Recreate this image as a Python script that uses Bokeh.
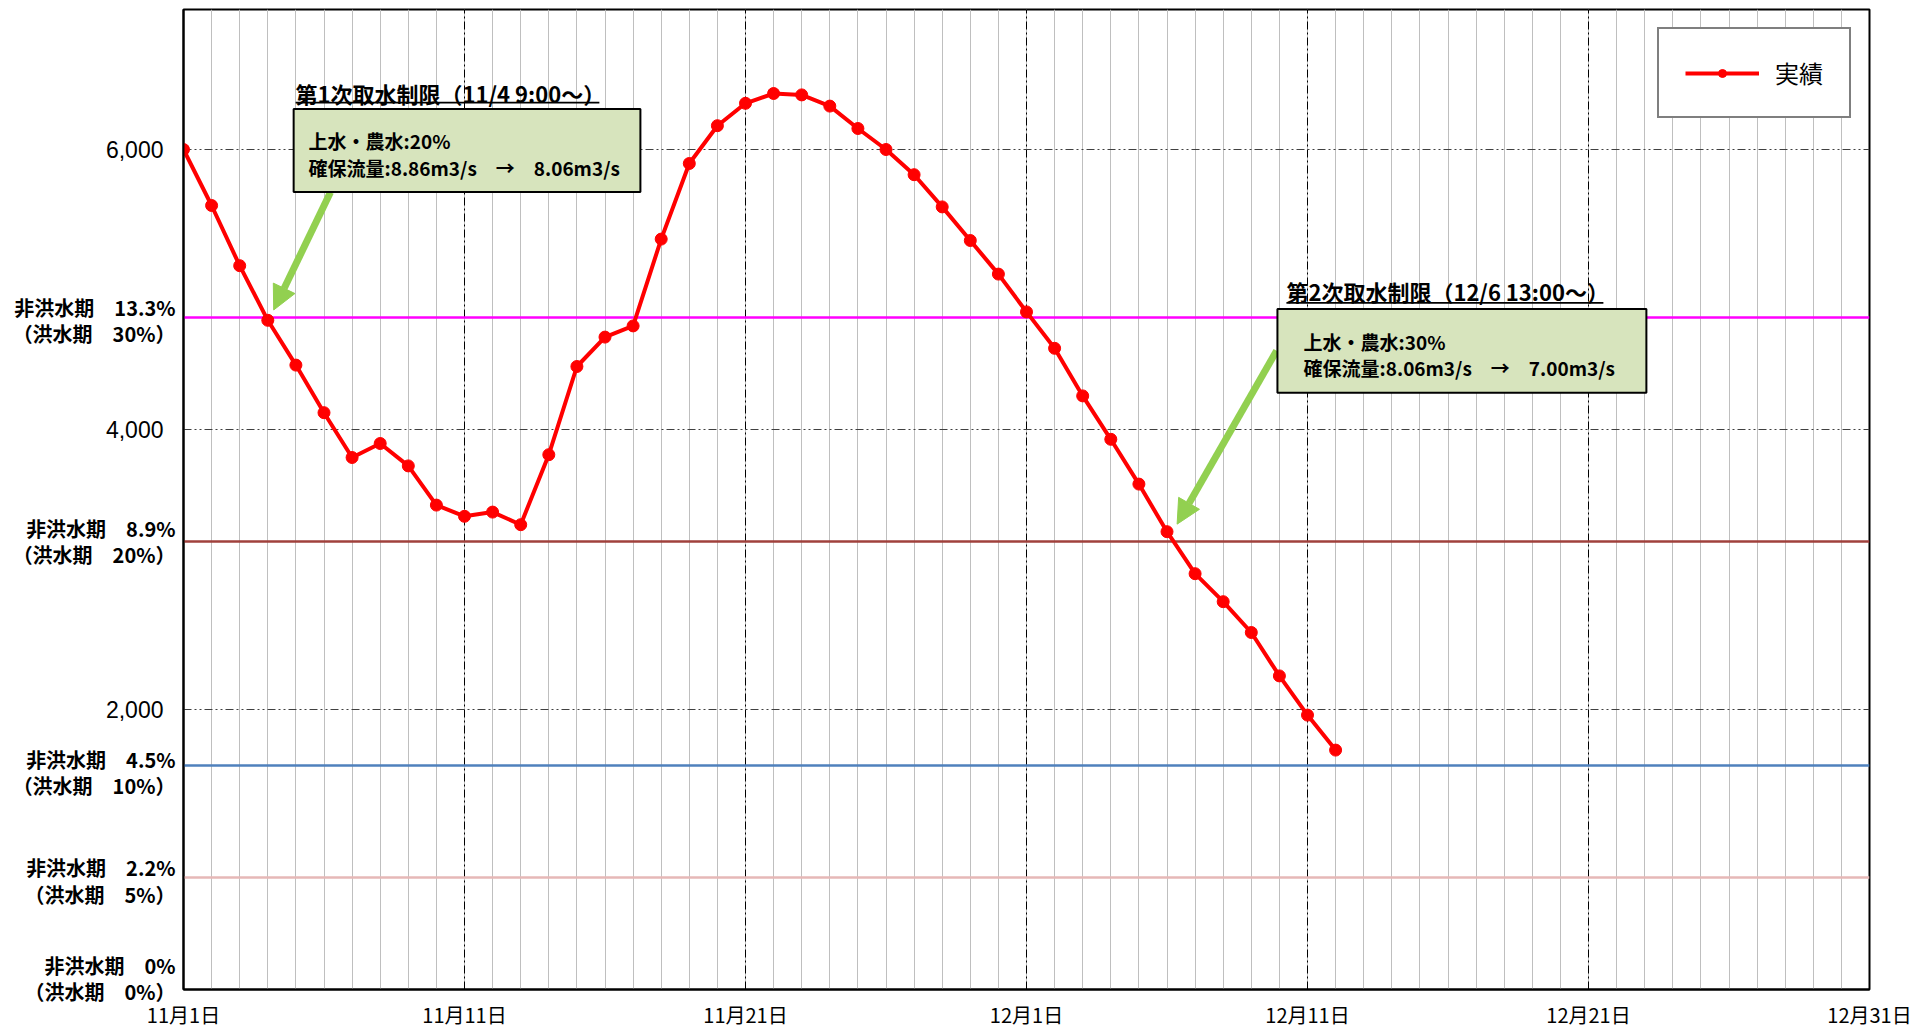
from bokeh.plotting import figure
from bokeh.models import (FixedTicker, NumeralTickFormatter, Label, BoxAnnotation,
                          Arrow, NormalHead, Legend, LegendItem, Range1d, LinearAxis)
from bokeh.embed import file_html
from bokeh.resources import INLINE

# ---- data -------------------------------------------------------------
# daily flow (day 0 = 11月1日)
flow = [6000, 5600, 5170, 4780, 4460, 4120, 3800, 3900, 3740, 3460,
        3380, 3410, 3320, 3820, 4450, 4660, 4740, 5360, 5900, 6170,
        6330, 6400, 6390, 6310, 6150, 6000, 5820, 5590, 5350, 5110,
        4840, 4580, 4240, 3930, 3610, 3270, 2970, 2770, 2550, 2240,
        1960, 1710]
days = list(range(len(flow)))
all_days = list(range(61))

x_tick_pos = [0, 10, 20, 30, 40, 50, 60]
x_tick_labels = ["11月1日", "11月11日", "11月21日", "12月1日",
                 "12月11日", "12月21日", "12月31日"]
y_ticks = [0, 2000, 4000, 6000]

thr_values = [4800, 3200, 1600, 800, 0]
thr_line1 = ["非洪水期　13.3%", "非洪水期　8.9%", "非洪水期　4.5%",
             "非洪水期　2.2%", "非洪水期　0%"]
thr_line2 = ["（洪水期　30%）", "（洪水期　20%）", "（洪水期　10%）",
             "（洪水期　5%）", "（洪水期　0%）"]
thr_colors = ["#FF00FF", "#A0413C", "#4F81BD", "#E6B8B7"]

ann1_title = "第1次取水制限（11/4 9:00～）"
ann1_text = ["上水・農水:20%", "確保流量:8.86m3/s　→　8.06m3/s"]
ann2_title = "第2次取水制限（12/6 13:00～）"
ann2_text = ["上水・農水:30%", "確保流量:8.06m3/s　→　7.00m3/s"]

# where the two-line threshold captions are centred (layout, not data)
thr_label_pos = [4780, 3200, 1550, 775, 80]

# ---- figure -----------------------------------------------------------
JP = "Noto Sans CJK JP"
GREEN = "#92D050"
BOXFILL = "#D7E4BD"

p = figure(width=1926, height=1031, x_range=Range1d(0, 60), y_range=Range1d(0, 7000),
           output_backend="svg", toolbar_location=None,
           min_border_left=183, min_border_right=57, min_border_top=9, min_border_bottom=39)
p.background_fill_color = "white"
p.border_fill_color = "white"
p.outline_line_color = "black"
p.outline_line_width = 2

# x axis
p.xaxis.ticker = FixedTicker(ticks=x_tick_pos, minor_ticks=all_days)
p.xaxis.major_label_overrides = {t: l for t, l in zip(x_tick_pos, x_tick_labels)}
p.xaxis.major_label_text_font = JP
p.xaxis.major_label_text_font_size = "20px"
p.xaxis.major_label_text_color = "black"
p.xaxis.major_label_standoff = 10
p.xaxis.major_tick_out = 0
p.xaxis.major_tick_in = 0
p.xaxis.minor_tick_out = 0
p.xaxis.minor_tick_in = 0
p.xaxis.axis_line_color = "black"
p.xaxis.axis_line_width = 2

# y axis (numbers) - innermost left axis
yax = p.left[0]
yax.ticker = FixedTicker(ticks=y_ticks)
yax.formatter = NumeralTickFormatter(format="0,0")
yax.major_label_overrides = {0: ""}
yax.major_label_text_font = "Liberation Sans"
yax.major_label_text_font_size = "23px"
yax.major_label_text_color = "black"
yax.major_label_standoff = 20
yax.major_tick_out = 0
yax.major_tick_in = 0
yax.minor_tick_out = 0
yax.minor_tick_in = 0
yax.axis_line_color = "black"
yax.axis_line_width = 2

# second (outer) y axis carrying the threshold captions; a negative standoff
# pulls its labels back next to the frame edge
thr_axis = LinearAxis(
    ticker=FixedTicker(ticks=thr_label_pos),
    major_label_overrides={v: a + "\n" + b for v, a, b in zip(thr_label_pos, thr_line1, thr_line2)},
    major_label_text_font=JP, major_label_text_font_style="bold",
    major_label_text_font_size="20px", major_label_text_color="black",
    major_label_text_line_height=0.9,
    major_label_standoff=-73,
    major_tick_out=0, major_tick_in=0, minor_tick_out=0, minor_tick_in=0,
    axis_line_color=None)
p.add_layout(thr_axis, "left")

# grids
p.xgrid.ticker = FixedTicker(ticks=x_tick_pos, minor_ticks=all_days)
p.xgrid.grid_line_color = "black"
p.xgrid.grid_line_dash = "8 3 2 3"
p.xgrid.grid_line_width = 1
p.xgrid.minor_grid_line_color = "#BFBFBF"
p.xgrid.minor_grid_line_width = 1
p.ygrid.ticker = FixedTicker(ticks=y_ticks)
p.ygrid.grid_line_color = "#404040"
p.ygrid.grid_line_dash = "8 3 2 3 2 3"
p.ygrid.grid_line_width = 1

# threshold lines
p.hspan(y=thr_values[:4], line_color=thr_colors, line_width=2.5)

# series
r_line = p.line(days, flow, line_color="#FF0000", line_width=4)
r_pts = p.scatter(days, flow, size=12, fill_color="#FF0000", line_color="#FF0000")

# legend
legend = Legend(items=[LegendItem(label="実績", renderers=[r_line, r_pts])],
                location="top_right", margin=18, padding=26,
                glyph_width=74, glyph_height=20, label_standoff=16,
                label_text_font=JP, label_text_font_size="24px", label_text_color="black",
                border_line_color="black", border_line_width=2,
                background_fill_color="white", background_fill_alpha=1)
p.add_layout(legend)

# arrows (drawn before the boxes so that the boxes cover their tails)
p.add_layout(Arrow(x_start=5.23, y_start=5694, x_end=3.21, y_end=4854,
                   line_color=GREEN, line_width=7,
                   end=NormalHead(size=24, fill_color=GREEN, line_color=GREEN)))
p.add_layout(Arrow(x_start=38.9, y_start=4562, x_end=35.36, y_end=3324,
                   line_color=GREEN, line_width=7,
                   end=NormalHead(size=24, fill_color=GREEN, line_color=GREEN)))


def annotation(left, right, bottom, top, title_x, title_y, ul_right, ul_y, text_x, text_ys, title, lines):
    p.add_layout(BoxAnnotation(left=left, right=right, bottom=bottom, top=top,
                               fill_color=BOXFILL, fill_alpha=1,
                               line_color="black", line_width=2, line_alpha=1))
    p.add_layout(Label(x=title_x, y=title_y, text=title, text_baseline="middle",
                       text_font=JP, text_font_style="bold", text_font_size="22px",
                       text_color="black"))
    p.add_layout(BoxAnnotation(left=title_x, right=ul_right, bottom=ul_y - 6, top=ul_y + 6,
                               fill_color="black", fill_alpha=1, line_alpha=0))
    for ty, txt in zip(text_ys, lines):
        p.add_layout(Label(x=text_x, y=ty, text=txt, text_baseline="middle",
                           text_font=JP, text_font_style="bold", text_font_size="19px",
                           text_color="black"))


annotation(3.92, 16.26, 5696, 6290, 3.99, 6406, 14.8, 6335, 4.45, [6064, 5872], ann1_title, ann1_text)
annotation(38.93, 52.06, 4263, 4861, 39.25, 4989, 50.53, 4904, 39.86, [4626, 4441], ann2_title, ann2_text)

open("out.html", "w").write(file_html(p, INLINE))
